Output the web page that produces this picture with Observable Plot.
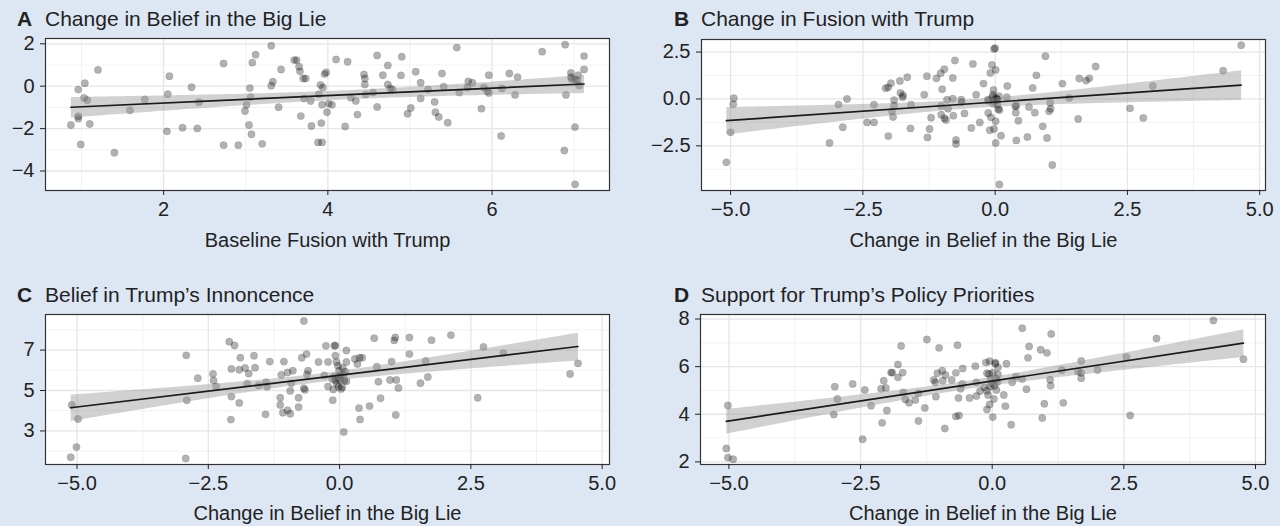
<!DOCTYPE html>
<html>
<head>
<meta charset="utf-8">
<script src="https://cdn.jsdelivr.net/npm/d3@7"></script>
<script src="https://cdn.jsdelivr.net/npm/@observablehq/plot@0.6"></script>
<style>
  html, body { margin: 0; padding: 0; }
  body { width: 1280px; height: 526px; background: #dde7f4; position: relative; overflow: hidden;
         font-family: "Liberation Sans", Arial, Helvetica, sans-serif; color: #222; }
  .panel { position: absolute; }
  .title { position: absolute; font-size: 21px; line-height: 20px; white-space: nowrap; color: #222; }
  .tag { position: absolute; font-size: 21px; line-height: 20px; font-weight: bold; color: #222; }
</style>
</head>
<body>
<div class="tag" style="left:17px;top:9px">A</div>
<div class="title" style="left:45px;top:9px">Change in Belief in the Big Lie</div>
<div class="tag" style="left:674px;top:9px">B</div>
<div class="title" style="left:701px;top:9px">Change in Fusion with Trump</div>
<div class="tag" style="left:17px;top:285px">C</div>
<div class="title" style="left:45px;top:285px">Belief in Trump’s Innoncence</div>
<div class="tag" style="left:674px;top:285px">D</div>
<div class="title" style="left:701px;top:285px">Support for Trump’s Policy Priorities</div>
<div id="pA" class="panel" style="left:0;top:30px"></div>
<div id="pB" class="panel" style="left:640px;top:30px"></div>
<div id="pC" class="panel" style="left:0;top:300px"></div>
<div id="pD" class="panel" style="left:640px;top:300px"></div>
<script>
// Panel A: Baseline Fusion with Trump (x) vs Change in Belief in the Big Lie (y)
const panelA = [
[0.87,-1.83],[0.96,-0.16],[1.04,0.14],[1.03,-0.55],[1.07,-0.66],[0.96,-1.42],[0.96,-1.53],[1.10,-1.78],[0.99,-2.75],[1.20,0.77],
[1.40,-3.14],[1.59,-1.14],[1.77,-0.63],[2.04,-2.13],[2.05,-0.38],[2.07,0.47],[2.23,-1.96],[2.34,-0.05],[2.41,-1.99],[2.43,-0.76],
[2.73,1.07],[2.73,-2.78],[2.91,-2.78],[2.99,-1.17],[3.01,-0.87],[3.04,-1.83],[3.07,-2.27],[3.05,-0.09],[3.06,-0.52],[3.08,1.11],
[3.12,1.48],[3.20,-2.72],[3.31,1.91],[3.31,0.02],[3.33,0.21],[3.40,-0.99],[3.43,0.79],[3.59,1.23],[3.62,1.23],[3.65,0.92],
[3.66,0.70],[3.70,0.36],[3.73,0.36],[3.67,-1.41],[3.71,-0.58],[3.79,-0.70],[3.80,-1.88],[3.88,-2.65],[3.93,-2.65],[3.92,-1.74],
[3.89,-0.38],[3.91,0.06],[3.94,-0.06],[3.93,-0.87],[3.96,0.57],[3.98,0.65],[3.99,-1.23],[4.01,-0.82],[4.05,-0.88],[4.10,1.26],
[4.21,-1.90],[4.24,1.15],[4.28,-0.54],[4.34,-0.70],[4.36,-1.34],[4.44,0.55],[4.45,0.36],[4.45,0.08],[4.46,-0.39],[4.55,-0.30],
[4.60,1.45],[4.60,-0.98],[4.67,0.52],[4.73,0.98],[4.73,0.08],[4.76,-0.11],[4.79,-0.17],[4.89,0.51],[4.90,1.39],[4.97,-1.30],
[5.01,-1.03],[5.07,0.68],[5.13,0.16],[5.13,-0.58],[5.22,-0.16],[5.30,-0.74],[5.31,-1.23],[5.35,-1.45],[5.39,0.60],[5.41,-0.02],
[5.46,-1.72],[5.57,1.82],[5.60,-0.30],[5.71,0.22],[5.76,0.16],[5.70,-0.06],[5.87,-1.06],[5.90,-0.06],[5.94,-0.24],[5.96,-0.32],
[5.96,0.52],[6.11,-2.35],[6.12,-0.11],[6.21,0.60],[6.28,-0.41],[6.31,0.43],[6.61,1.63],[6.88,-3.03],[6.89,1.96],[6.90,-0.41],
[6.96,0.63],[6.96,0.43],[6.97,0.33],[7.01,0.32],[7.04,0.27],[7.05,0.52],[7.06,0.03],[7.01,-1.93],[7.01,-4.63],[7.12,1.42],[7.12,0.79]
];
// Panel B: Change in Belief in the Big Lie (x) vs Change in Fusion with Trump (y)
const panelB = [
[-5.08,-3.38],[-5.00,-1.78],[-4.95,-0.28],[-4.94,0.04],[-3.13,-2.35],[-2.96,-0.30],[-2.88,-1.51],[-2.80,0.00],[-2.42,-1.25],[-2.29,-1.25],
[-2.29,-0.30],[-2.07,0.57],[-2.02,0.62],[-1.97,0.84],[-2.02,-1.98],[-1.95,-0.66],[-1.91,-0.36],[-1.91,-0.07],[-1.93,-0.96],[-1.80,0.96],
[-1.79,0.32],[-1.75,0.09],[-1.74,0.20],[-1.66,1.16],[-1.59,-0.30],[-1.60,-1.57],[-1.34,0.23],[-1.29,1.21],[-1.28,-2.05],[-1.24,-1.60],
[-1.21,-1.00],[-1.11,1.10],[-1.03,1.37],[-1.00,0.52],[-0.96,1.58],[-1.02,-0.37],[-1.02,-0.84],[-0.96,-1.03],[-0.93,-1.12],[-0.91,-0.04],
[-0.89,-0.52],[-0.80,1.12],[-0.80,0.02],[-0.79,-0.89],[-0.76,2.05],[-0.74,-2.19],[-0.74,-2.40],[-0.64,-0.04],[-0.63,-0.18],[-0.58,-0.77],
[-0.45,-1.55],[-0.42,1.87],[-0.36,0.23],[-0.29,-1.25],[-0.22,0.82],[-0.14,-0.04],[-0.13,-0.75],[-0.09,1.39],[-0.10,-1.67],[-0.08,-0.98],
[-0.06,1.81],[-0.04,0.21],[-0.03,0.48],[-0.02,2.67],[0.00,2.70],[0.01,1.55],[-0.02,-0.09],[0.01,-1.19],[0.01,-2.35],[-0.02,-1.60],
[0.03,0.00],[0.06,-0.53],[0.08,-0.59],[0.08,-4.56],[0.11,-1.96],[0.22,0.09],[0.23,0.69],[0.38,-0.39],[0.40,-0.36],[0.39,-0.73],
[0.44,-1.16],[0.40,-2.21],[0.61,-2.03],[0.64,-0.43],[0.71,0.59],[0.75,-0.73],[0.78,1.26],[0.90,-1.46],[0.95,2.28],[0.98,-2.08],
[1.02,-0.66],[1.04,-0.21],[1.05,-0.52],[1.08,-3.52],[1.27,0.82],[1.40,0.05],[1.57,-1.07],[1.59,1.09],[1.72,0.98],[1.78,1.10],
[1.90,1.73],[2.55,-0.50],[2.80,-1.01],[2.98,0.69],[4.31,1.51],[4.65,2.86],
[-0.12,-0.10],[-0.05,0.10],[0.02,0.05],[0.05,-0.05],[0.07,0.15],[-0.03,-0.25],[0.04,-0.30]
];
// Panel C: Change in Belief in the Big Lie (x) vs Belief in Trump's Innocence (y)
const panelC = [
[-5.12,1.70],[-5.01,2.20],[-5.10,4.28],[-4.98,3.59],[-2.92,6.74],[-2.91,4.52],[-2.93,1.64],[-2.70,5.61],[-2.41,5.82],[-2.40,5.49],
[-2.35,5.20],[-2.10,7.41],[-2.00,7.23],[-2.06,6.07],[-2.06,4.70],[-1.91,4.38],[-2.07,3.56],[-1.91,6.03],[-1.89,6.62],[-1.80,6.11],
[-1.73,5.84],[-1.63,6.72],[-1.61,6.13],[-1.76,5.34],[-1.54,5.25],[-1.40,5.41],[-1.38,5.18],[-1.41,3.82],[-1.33,6.43],[-1.11,5.77],
[-1.13,4.64],[-1.13,4.28],[-1.08,3.90],[-1.06,6.43],[-0.99,5.89],[-0.92,5.36],[-0.94,4.98],[-0.99,4.02],[-0.94,3.85],[-0.89,5.98],
[-0.78,4.64],[-0.78,4.18],[-0.72,6.62],[-0.68,8.44],[-0.68,5.11],[-0.66,5.03],[-0.63,6.80],[-0.62,5.80],[-0.60,5.98],[-0.40,6.41],
[-0.29,5.74],[-0.26,7.21],[-0.22,5.20],[-0.22,6.41],[-0.13,4.52],[-0.12,5.05],[-0.10,7.21],[-0.08,7.23],[-0.08,6.72],[-0.06,6.41],
[-0.10,5.69],[-0.08,5.49],[-0.03,6.23],[-0.01,5.98],[-0.02,5.18],[0.02,5.74],[0.03,5.07],[0.06,6.11],[0.08,5.79],[0.09,5.49],
[0.08,2.95],[0.11,5.93],[0.13,6.41],[0.13,6.98],[0.13,5.46],[0.29,6.56],[0.34,6.31],[0.38,6.62],[0.43,6.62],[0.37,4.13],
[0.39,3.57],[0.57,4.23],[0.66,7.59],[0.71,6.18],[0.74,5.43],[0.78,4.62],[0.96,5.52],[0.99,6.43],[1.04,7.48],[1.06,7.62],
[1.08,5.52],[1.12,5.13],[1.07,3.79],[1.33,7.62],[1.33,6.80],[1.54,5.36],[1.64,6.46],[1.68,5.67],[1.75,7.49],[2.12,7.74],
[2.63,4.64],[2.74,7.16],[3.12,6.85],[4.39,5.82],[4.54,6.34],
[-0.03,5.66],[0.00,5.52],[0.05,5.16],[-0.05,5.33],[-0.14,5.57]
];
// Panel D: Change in Belief in the Big Lie (x) vs Support for Trump's Policy Priorities (y)
const panelD = [
[-5.05,2.56],[-5.02,2.18],[-4.92,2.11],[-5.02,4.37],[-3.01,3.99],[-2.99,5.16],[-2.94,4.64],[-2.65,5.27],[-2.46,2.95],[-2.42,5.02],
[-2.30,4.36],[-2.11,5.07],[-2.06,5.41],[-2.02,5.10],[-2.09,3.64],[-2.00,4.16],[-1.92,5.75],[-1.90,5.75],[-1.79,6.09],[-1.79,5.55],
[-1.73,6.87],[-1.70,5.75],[-1.69,4.92],[-1.65,4.62],[-1.58,4.48],[-1.46,4.60],[-1.40,4.88],[-1.40,3.72],[-1.28,4.26],[-1.24,7.14],
[-1.11,5.44],[-1.08,5.34],[-1.07,4.74],[-1.04,5.72],[-1.01,6.79],[-0.95,5.83],[-0.94,5.41],[-0.90,3.40],[-0.89,5.65],[-0.77,5.44],
[-0.69,5.74],[-0.66,6.90],[-0.69,3.91],[-0.63,3.95],[-0.64,4.68],[-0.60,5.07],[-0.57,5.27],[-0.56,5.92],[-0.43,4.68],[-0.32,6.02],
[-0.30,4.77],[-0.30,5.34],[-0.23,4.98],[-0.15,5.13],[-0.12,6.17],[-0.10,4.20],[-0.10,5.72],[-0.08,4.81],[-0.05,6.23],[-0.05,4.41],
[-0.04,5.16],[-0.01,5.30],[0.01,3.88],[0.01,5.75],[0.03,4.64],[0.06,6.17],[0.06,6.12],[0.08,5.02],[0.10,5.36],[0.11,5.67],
[0.11,5.97],[0.22,4.81],[0.25,4.34],[0.27,6.12],[0.36,3.56],[0.38,5.34],[0.45,5.58],[0.57,7.61],[0.57,5.48],[0.65,5.05],
[0.68,6.37],[0.70,6.85],[0.92,6.71],[0.95,3.84],[0.99,4.44],[1.04,6.58],[1.10,5.45],[1.11,5.20],[1.12,7.37],[1.32,5.85],
[1.35,4.48],[1.63,5.79],[1.69,6.24],[1.69,5.74],[1.69,5.51],[2.00,5.86],[2.55,6.40],[2.62,3.95],[3.12,7.18],[4.20,7.94],[4.77,6.31],
[-0.10,4.99],[-0.03,5.48],[0.04,5.20],[0.08,5.48],[-0.06,5.69]
];

const xLabelA = "Baseline Fusion with Trump";
const xLabelBig = "Change in Belief in the Big Lie";

const ticksA_x = [2, 4, 6], minorA_x = [1, 3, 5, 7];
const ticksA_y = [-4, -2, 0, 2], minorA_y = [-3, -1, 1];
const ticksBig_x = [-5, -2.5, 0, 2.5, 5], minorBig_x = [-3.75, -1.25, 1.25, 3.75];
const ticksB_y = [-2.5, 0, 2.5], minorB_y = [-3.75, -1.25, 1.25];
const ticksC_y = [3, 5, 7], minorC_y = [2, 4, 6, 8];
const ticksD_y = [2, 4, 6, 8], minorD_y = [3, 5, 7];

function panel(cfg) {
  const data = cfg.data.map(([x, y]) => ({x, y}));
  return Plot.plot({
    width: 640, height: cfg.height,
    marginLeft: cfg.ml, marginRight: cfg.mr, marginTop: cfg.mt, marginBottom: cfg.mb,
    style: {background: "transparent", color: "#222", fontFamily: "'Liberation Sans', Arial, Helvetica, sans-serif", overflow: "visible"},
    x: {domain: cfg.xDomain},
    y: {domain: cfg.yDomain},
    marks: [
      Plot.frame({fill: "white"}),
      Plot.gridX(cfg.xMinor, {stroke: "#ececec", strokeOpacity: 1, strokeWidth: 0.7}),
      Plot.gridY(cfg.yMinor, {stroke: "#ececec", strokeOpacity: 1, strokeWidth: 0.7}),
      Plot.gridX(cfg.xTicks, {stroke: "#e6e6e6", strokeOpacity: 1, strokeWidth: 1.3}),
      Plot.gridY(cfg.yTicks, {stroke: "#e6e6e6", strokeOpacity: 1, strokeWidth: 1.3}),
      Plot.dot(data, {x: "x", y: "y", r: 3.7, fill: "black", fillOpacity: 0.3, stroke: "black", strokeOpacity: 0.12, strokeWidth: 0.8}),
      Plot.linearRegressionY(data, {x: "x", y: "y", stroke: "#1a1a1a", strokeWidth: 1.7, fill: "#999", fillOpacity: 0.45}),
      Plot.frame({stroke: "#333", strokeWidth: 1.2}),
      Plot.axisX(cfg.xTicks, {tickFormat: cfg.xFmt, tickSize: 5, tickPadding: 6, fontSize: 20,
        label: cfg.xLabel, labelAnchor: "center", labelArrow: "none", labelOffset: cfg.labelOffset}),
      Plot.axisY(cfg.yTicks, {tickFormat: cfg.yFmt, tickSize: 5, tickPadding: 6, fontSize: 20, label: null})
    ]
  });
}

const f0 = d3.format("d"), f1 = d3.format(".1f");

document.getElementById("pA").append(panel({
  data: panelA, height: 230, ml: 45, mr: 31, mt: 8, mb: 70,
  xDomain: [0.561, 7.43], yDomain: [-4.92, 2.25],
  xTicks: ticksA_x, xMinor: minorA_x, yTicks: ticksA_y, yMinor: minorA_y,
  xFmt: f0, yFmt: f0, xLabel: xLabelA, labelOffset: 56
}));
document.getElementById("pB").append(panel({
  data: panelB, height: 230, ml: 61, mr: 15, mt: 9, mb: 70,
  xDomain: [-5.55, 5.11], yDomain: [-4.88, 3.17],
  xTicks: ticksBig_x, xMinor: minorBig_x, yTicks: ticksB_y, yMinor: minorB_y,
  xFmt: f1, yFmt: f1, xLabel: xLabelBig, labelOffset: 56
}));
document.getElementById("pC").append(panel({
  data: panelC, height: 226, ml: 45, mr: 31, mt: 14, mb: 62,
  xDomain: [-5.60, 5.14], yDomain: [1.34, 8.76],
  xTicks: ticksBig_x, xMinor: minorBig_x, yTicks: ticksC_y, yMinor: minorC_y,
  xFmt: f1, yFmt: f0, xLabel: xLabelBig, labelOffset: 55
}));
document.getElementById("pD").append(panel({
  data: panelD, height: 226, ml: 60, mr: 15, mt: 14, mb: 62,
  xDomain: [-5.54, 5.19], yDomain: [1.89, 8.19],
  xTicks: ticksBig_x, xMinor: minorBig_x, yTicks: ticksD_y, yMinor: minorD_y,
  xFmt: f1, yFmt: f0, xLabel: xLabelBig, labelOffset: 55
}));
</script>
</body>
</html>
